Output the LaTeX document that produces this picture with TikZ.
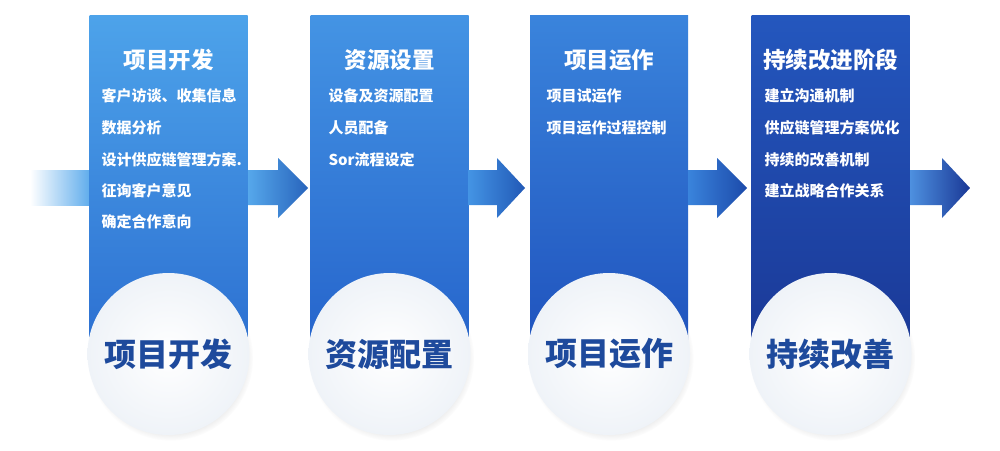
\documentclass[tikz,border=0pt]{standalone}
\usepackage{fontspec}
\setmainfont{Noto Sans CJK SC}
\usetikzlibrary{calc,shadows}
\definecolor{txtblue}{HTML}{1E4A9C}
\definecolor{ca}{HTML}{4DA3EA}\definecolor{cb}{HTML}{2C6FD1}
\definecolor{cc}{HTML}{4494E4}\definecolor{cd}{HTML}{2563CB}
\definecolor{ce}{HTML}{3A84DC}\definecolor{cf}{HTML}{1F52BD}
\definecolor{cg}{HTML}{2457BE}\definecolor{ch}{HTML}{1A3896}
\definecolor{circedge}{HTML}{EFF3F8}
\tikzset{
  colbox/.style={rectangle, inner sep=0pt, outer sep=0pt, minimum width=158pt, minimum height=339pt, draw=none},
  disc/.style={circle, inner sep=0pt, outer sep=0pt, minimum size=162pt, inner color=white, outer color=circedge,
    circular drop shadow={shadow xshift=2pt, shadow yshift=-4pt, opacity=0.22, shadow scale=1.02}},
  disctext/.style={font=\bfseries\fontsize{32}{36}\selectfont, text=txtblue},
  title/.style={font=\bfseries\fontsize{22.5}{26}\selectfont, text=white},
  item/.style={font=\bfseries\fontsize{15}{18}\selectfont, text=white, anchor=west},
}
\newcommand{\flowarrow}[5]{%
  % #1 start x, #2 head base x, #3 tip x, #4 left colour, #5 right colour
  \shade[left color=#4, right color=#5] (#1,-170) -- (#2,-170) -- (#2,-158) -- (#3,-188) -- (#2,-218) -- (#2,-205) -- (#1,-205) -- cycle;}
\begin{document}
\begin{tikzpicture}[x=1pt,y=1pt]
\fill[white] (0,0) rectangle (1000,-450);
\useasboundingbox (0,0) rectangle (1000,-450);

% incoming band
\coordinate (in0) at (30,-170);
\shade[left color=white, right color=ca!90] (in0) rectangle (90,-205);

% columns
\node[colbox, top color=ca, bottom color=cb] (c1) at (168.5,-184.5) {};
\node[colbox, top color=cc, bottom color=cd] (c2) at (389.5,-184.5) {};
\node[colbox, top color=ce, bottom color=cf] (c3) at (609,-184.5) {};
\node[colbox, top color=cg, bottom color=ch] (c4) at (830.5,-184.5) {};

% arrows
\flowarrow{248}{278}{308}{ca!95}{cb!90!black}
\flowarrow{468}{497}{525}{cc}{cd!90!black}
\flowarrow{688}{717}{747}{ce}{cf!90!black}
\flowarrow{910}{942}{970}{ce!90}{ch}

% titles
\node[title] (t1) at (168.5,-60) {项目开发};
\node[title] (t2) at (389.5,-60) {资源设置};
\node[title] (t3) at (609,-60) {项目运作};
\node[title] (t4) at (830.5,-60) {持续改进阶段};

% items
\node[item] (i11) at (98,-96) {客户访谈、收集信息};
\node[item] (i12) at (98,-128) {数据分析};
\node[item] (i13) at (98,-160) {设计供应链管理方案.};
\node[item] (i14) at (98,-191) {征询客户意见};
\node[item] (i15) at (98,-222) {确定合作意向};

\node[item] (i21) at (325,-96) {设备及资源配置};
\node[item] (i22) at (325,-128) {人员配备};
\node[item] (i23) at (325,-160) {Sor流程设定};

\node[item] (i31) at (543,-96) {项目试运作};
\node[item] (i32) at (543,-128) {项目运作过程控制};

\node[item] (i41) at (761,-96) {建立沟通机制};
\node[item] (i42) at (761,-128) {供应链管理方案优化};
\node[item] (i43) at (761,-160) {持续的改善机制};
\node[item] (i44) at (761,-191) {建立战略合作关系};

% discs
\node[disc] (k1) at (168.5,-354) {};
\node[disc] (k2) at (389.5,-354) {};
\node[disc] (k3) at (609,-354) {};
\node[disc] (k4) at (830.5,-354) {};
\node[disctext] at (k1) {项目开发};
\node[disctext] at (k2) {资源配置};
\node[disctext] at (k3) {项目运作};
\node[disctext] at (k4) {持续改善};
\end{tikzpicture}
\end{document}
